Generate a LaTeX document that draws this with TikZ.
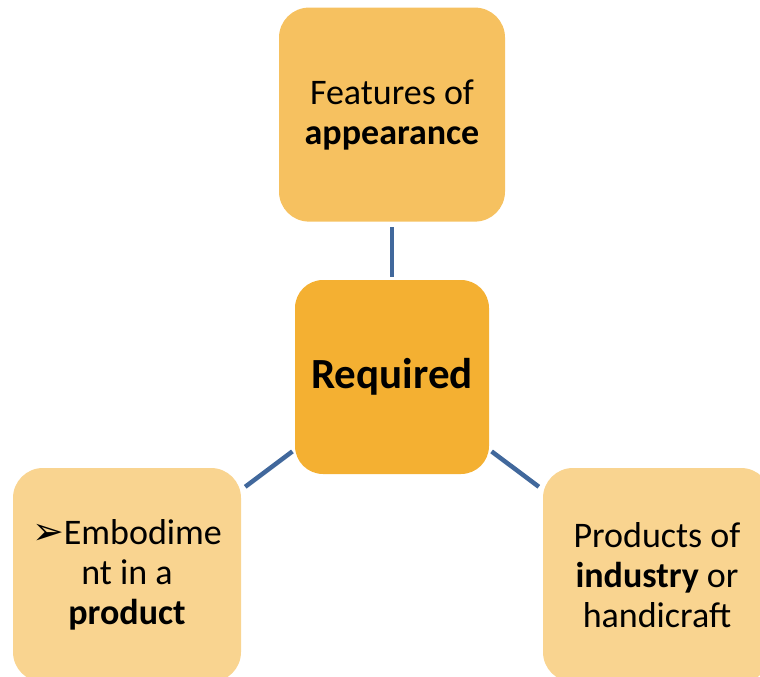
\documentclass[tikz,border=0pt]{standalone}
\usepackage{fontspec}
\setmainfont{Carlito}
\newfontfamily\symfont{DejaVu Sans}
\usetikzlibrary{positioning}
\definecolor{boxtop}{HTML}{F6C160}
\definecolor{boxmid}{HTML}{F4B032}
\definecolor{boxlow}{HTML}{F9D490}
\definecolor{linkblue}{HTML}{41689C}

\begin{document}
\begin{tikzpicture}[
x=1pt, y=-1pt,
box/.style={rounded corners=30pt, align=center, inner sep=0pt, font=\fontsize{36}{40}\selectfont},
topbox/.style={box, fill=boxtop, minimum width=226pt, minimum height=214pt},
midbox/.style={box, fill=boxmid, minimum width=194pt, minimum height=194pt, rounded corners=28pt},
lowbox/.style={box, fill=boxlow, minimum width=228pt, minimum height=214pt},
link/.style={draw=linkblue, line width=4.5pt, shorten <=3pt, shorten >=5pt}
]
\useasboundingbox (0,0) rectangle (760,677);

\node[midbox] (req) at (392,377) {\fontsize{43}{46}\selectfont\bfseries Required};
\node[topbox, above=58pt of req] (feat) {Features of\\\textbf{appearance}};
\node[lowbox] (embod) at (127,575) {{\symfont\fontsize{38}{40}\selectfont ➢}Embodime\\nt in a\\\textbf{product}};
\node[lowbox] (prod) at (657,575) {Products of\\\textbf{industry} or\\handicraft};

\draw[link] (req) -- (feat);
\draw[link] (req) -- (embod);
\draw[link] (req) -- (prod);

\end{tikzpicture}
\end{document}
